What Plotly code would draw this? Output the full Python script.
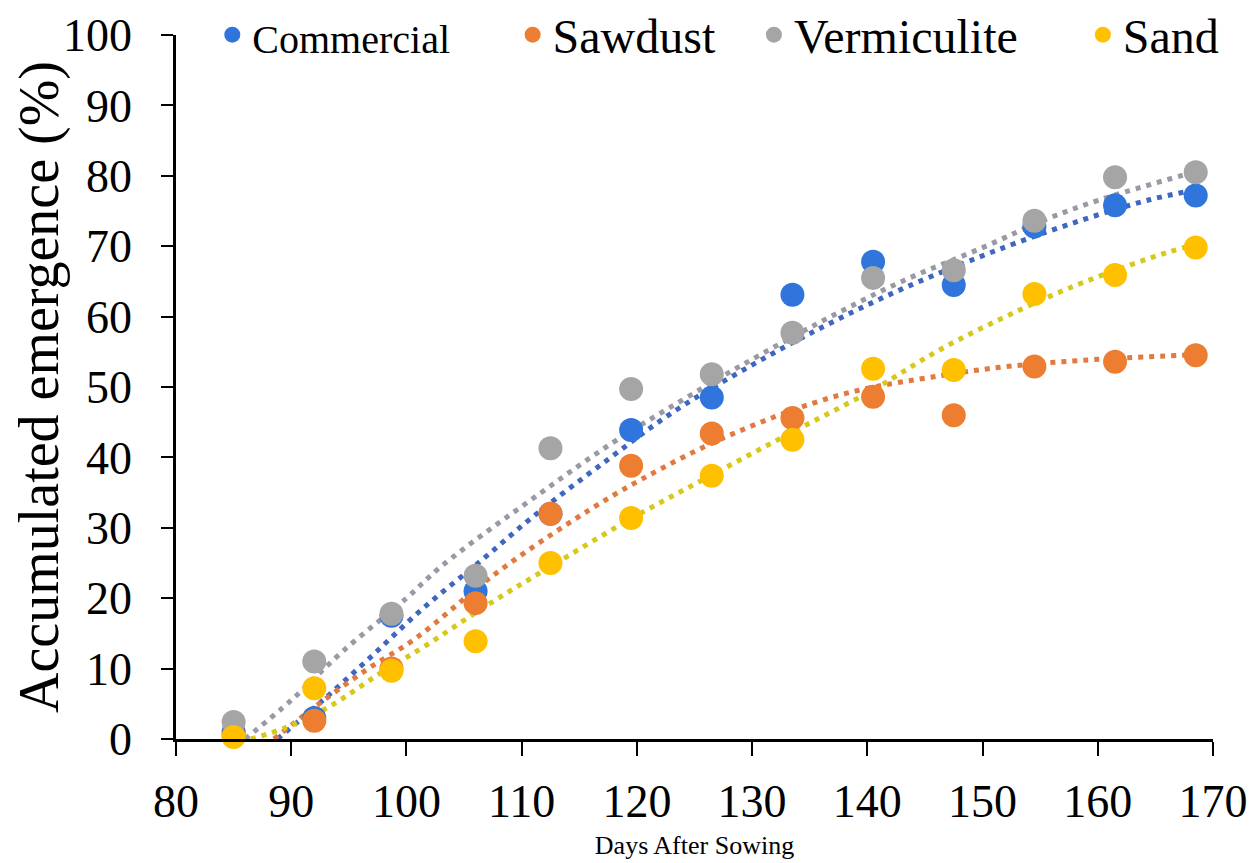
import plotly.graph_objects as go

# ---- data ----
days = [85, 92, 98.7, 106, 112.5, 119.5, 126.5, 133.5, 140.5, 147.5, 154.5, 161.5, 168.5]
commercial = [1.0, 3.0, 17.5, 21.0, 32.0, 43.9, 48.5, 63.1, 67.8, 64.5, 72.8, 75.8, 77.2]
sawdust = [0.5, 2.6, 10.0, 19.3, 32.0, 38.8, 43.4, 45.6, 48.6, 46.0, 52.9, 53.6, 54.5]
vermiculite = [2.4, 11.0, 17.8, 23.2, 41.3, 49.7, 51.8, 57.7, 65.5, 66.6, 73.6, 79.8, 80.5]
sand = [0.3, 7.2, 9.7, 13.9, 25.0, 31.4, 37.4, 42.5, 52.6, 52.4, 63.2, 65.9, 69.8]

# dotted trend lines
commercial_tx = [88.8, 92.4, 96.8, 101.4, 106.6, 111, 117.4, 123.2, 129, 136.2, 143.4, 152, 158.8, 164.5, 168.5]
commercial_ty = [0, 5.0, 11.5, 18.5, 25.5, 31.6, 39.6, 46.5, 52.2, 58.6, 64.2, 69.9, 73.8, 76.6, 78.0]
sawdust_tx = [88.5, 92, 96.5, 100.8, 107.5, 114.5, 120.3, 128.4, 137.7, 146.3, 152.1, 158.8, 168.5]
sawdust_ty = [0, 4.5, 9.8, 14.3, 23.2, 31.1, 36.8, 43.4, 48.9, 51.6, 52.9, 53.8, 54.6]
vermiculite_tx = [86, 90, 94.5, 100, 103, 111.6, 118, 123.8, 129, 136, 143, 150, 155.8, 160.2, 168.5]
vermiculite_ty = [0, 5.5, 12.5, 20.0, 24.5, 34.9, 42.2, 48.0, 53.0, 59.3, 65.0, 69.8, 74.0, 76.6, 80.6]
sand_tx = [86.5, 89.5, 93.3, 97.6, 101.7, 107, 112.5, 119.5, 126.5, 133.5, 140.5, 146.3, 153.3, 158.8, 166, 168.5]
sand_ty = [0, 1.6, 4.6, 9.2, 13.3, 19.0, 24.5, 31.3, 37.5, 43.6, 49.6, 55.3, 61.0, 64.9, 69.1, 70.2]

x_ticks = [80, 90, 100, 110, 120, 130, 140, 150, 160, 170]
y_ticks = [0, 10, 20, 30, 40, 50, 60, 70, 80, 90, 100]

FONT = "Liberation Serif, Times New Roman, serif"
NB = "\u00a0"
TH = "\u2009"

series = [
    ("<span style='font-size:40px'>Commercial</span>" + NB * 4 + TH, commercial, "#2F75DC", commercial_tx, commercial_ty, "#3F67C0"),
    ("Sawdust" + NB * 2 + TH, sawdust, "#ED7D31", sawdust_tx, sawdust_ty, "#E07A40"),
    ("Vermiculite" + NB * 5, vermiculite, "#A5A5A5", vermiculite_tx, vermiculite_ty, "#9A9AA6"),
    ("Sand", sand, "#FFC000", sand_tx, sand_ty, "#D6C91A"),
]

fig = go.Figure()
for name, vals, col, tx, ty, tcol in series:
    fig.add_trace(go.Scatter(
        x=tx, y=ty, mode="lines", line=dict(color=tcol, width=5, dash="5px,6px", shape="spline"),
        showlegend=False, hoverinfo="skip", cliponaxis=False))
for name, vals, col, tx, ty, tcol in series:
    fig.add_trace(go.Scatter(
        x=days, y=vals, mode="markers", name=name,
        marker=dict(color=col, size=24), cliponaxis=False))

fig.update_layout(
    width=1251, height=855,
    margin=dict(l=168, r=46, t=27, b=124, autoexpand=False),
    plot_bgcolor="white", paper_bgcolor="white",
    font=dict(family=FONT, color="black"),
    legend=dict(orientation="h", x=0.035, y=1.0, xanchor="left", yanchor="middle",
                font=dict(family=FONT, size=48, color="black"), bgcolor="rgba(0,0,0,0)"),
    xaxis=dict(range=[80, 170], tickvals=x_ticks, ticks="outside", ticklen=14, tickwidth=2,
               tickcolor="black", showline=True, linecolor="black", linewidth=2.5,
               showgrid=False, zeroline=False, tickfont=dict(family=FONT, size=46),
               ticklabelstandoff=6, automargin=False,
               title=dict(text="Days After Sowing", font=dict(family=FONT, size=26), standoff=10)),
    yaxis=dict(range=[0, 100], tickvals=y_ticks, ticks="outside", ticklen=12, tickwidth=2,
               tickcolor="black", showline=True, linecolor="black", linewidth=2.5,
               showgrid=False, zeroline=False, tickfont=dict(family=FONT, size=46),
               ticklabelstandoff=20, automargin=False,
               title=dict(text="Accumulated emergence (%)", font=dict(family=FONT, size=56), standoff=27)),
)
fig.write_html("out.html")
